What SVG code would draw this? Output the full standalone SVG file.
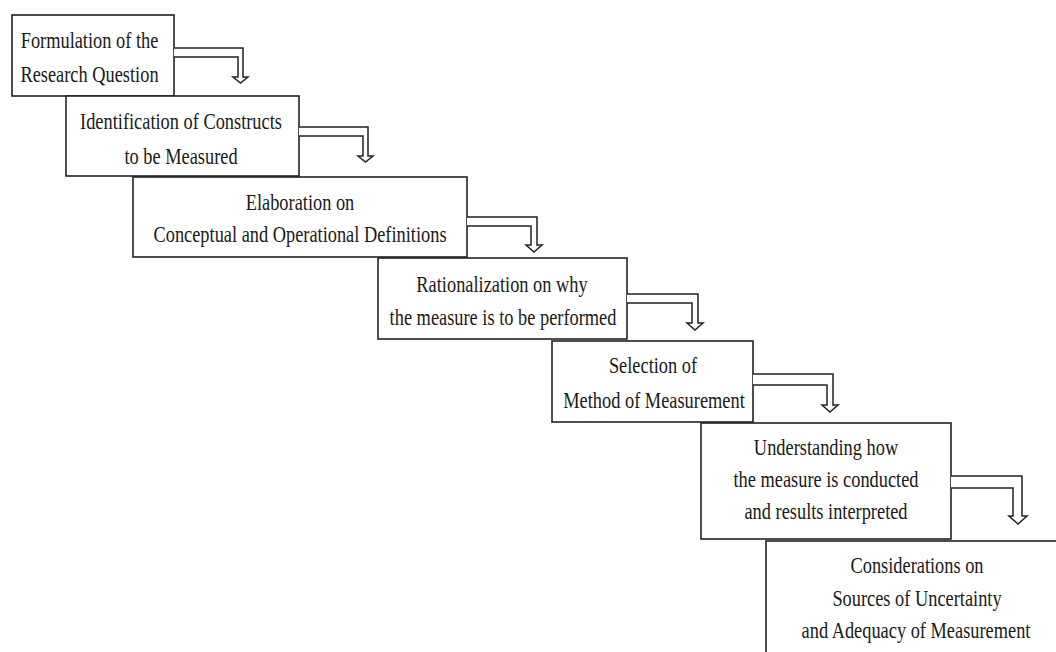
<svg xmlns="http://www.w3.org/2000/svg" width="1056" height="652" viewBox="0 0 1056 652">
<style>
.box{fill:#fff;stroke:#222;stroke-width:1.6}
.arr{fill:#fff;stroke:#222;stroke-width:1.5;stroke-linejoin:miter}
text{font-family:"Liberation Serif","Times New Roman",serif;font-size:24px;fill:#1a1a1a;text-anchor:middle}
</style>
<rect width="1056" height="652" fill="#fff"/>
<g id="n1"><rect class="box" x="12" y="15" width="162" height="81"/>
<text transform="translate(89.5,48) scale(0.765,1)">Formulation of the</text>
<text transform="translate(89.5,82) scale(0.765,1)">Research Question</text></g>
<g id="n2"><rect class="box" x="66" y="96" width="233" height="80"/>
<text transform="translate(181,129) scale(0.765,1)">Identification of Constructs</text>
<text transform="translate(181,164) scale(0.765,1)">to be Measured</text></g>
<g id="n3"><rect class="box" x="133" y="177" width="334" height="80"/>
<text transform="translate(300,210) scale(0.765,1)">Elaboration on</text>
<text transform="translate(300,242) scale(0.765,1)">Conceptual and Operational Definitions</text></g>
<g id="n4"><rect class="box" x="378" y="258" width="249" height="81"/>
<text transform="translate(502,292) scale(0.765,1)">Rationalization on why</text>
<text transform="translate(503,325) scale(0.765,1)">the measure is to be performed</text></g>
<g id="n5"><rect class="box" x="552" y="341" width="201" height="81"/>
<text transform="translate(653,373) scale(0.765,1)">Selection of</text>
<text transform="translate(654,408) scale(0.765,1)">Method of Measurement</text></g>
<g id="n6"><rect class="box" x="701" y="423" width="250" height="116"/>
<text transform="translate(826,455) scale(0.765,1)">Understanding how</text>
<text transform="translate(826,487) scale(0.765,1)">the measure is conducted</text>
<text transform="translate(826,519) scale(0.765,1)">and results interpreted</text></g>
<g id="n7"><rect class="box" x="766" y="541" width="300" height="120"/>
<text transform="translate(917,573) scale(0.765,1)">Considerations on</text>
<text transform="translate(917,606) scale(0.765,1)">Sources of Uncertainty</text>
<text transform="translate(916,638) scale(0.765,1)">and Adequacy of Measurement</text></g>
<g id="connectors">
<path class="arr" d="M174,48 H243 V77 H248 L240.5,83 L233,77 H238 V57 H174"/>
<path class="arr" d="M299,127 H368 V156 H373 L365.5,162 L358,156 H363 V136 H299"/>
<path class="arr" d="M467,217 H537 V245 H542 L534,252 L526,245 H531 V226 H467"/>
<path class="arr" d="M627,294 H698 V323 H703 L695,330 L687,323 H692 V303 H627"/>
<path class="arr" d="M753,374 H833 V405 H838 L830,412 L822,405 H827 V385 H753"/>
<path class="arr" d="M951,476 H1022 V516 H1027 L1018,524 L1009,516 H1013 V488 H951"/>
</g>
</svg>
